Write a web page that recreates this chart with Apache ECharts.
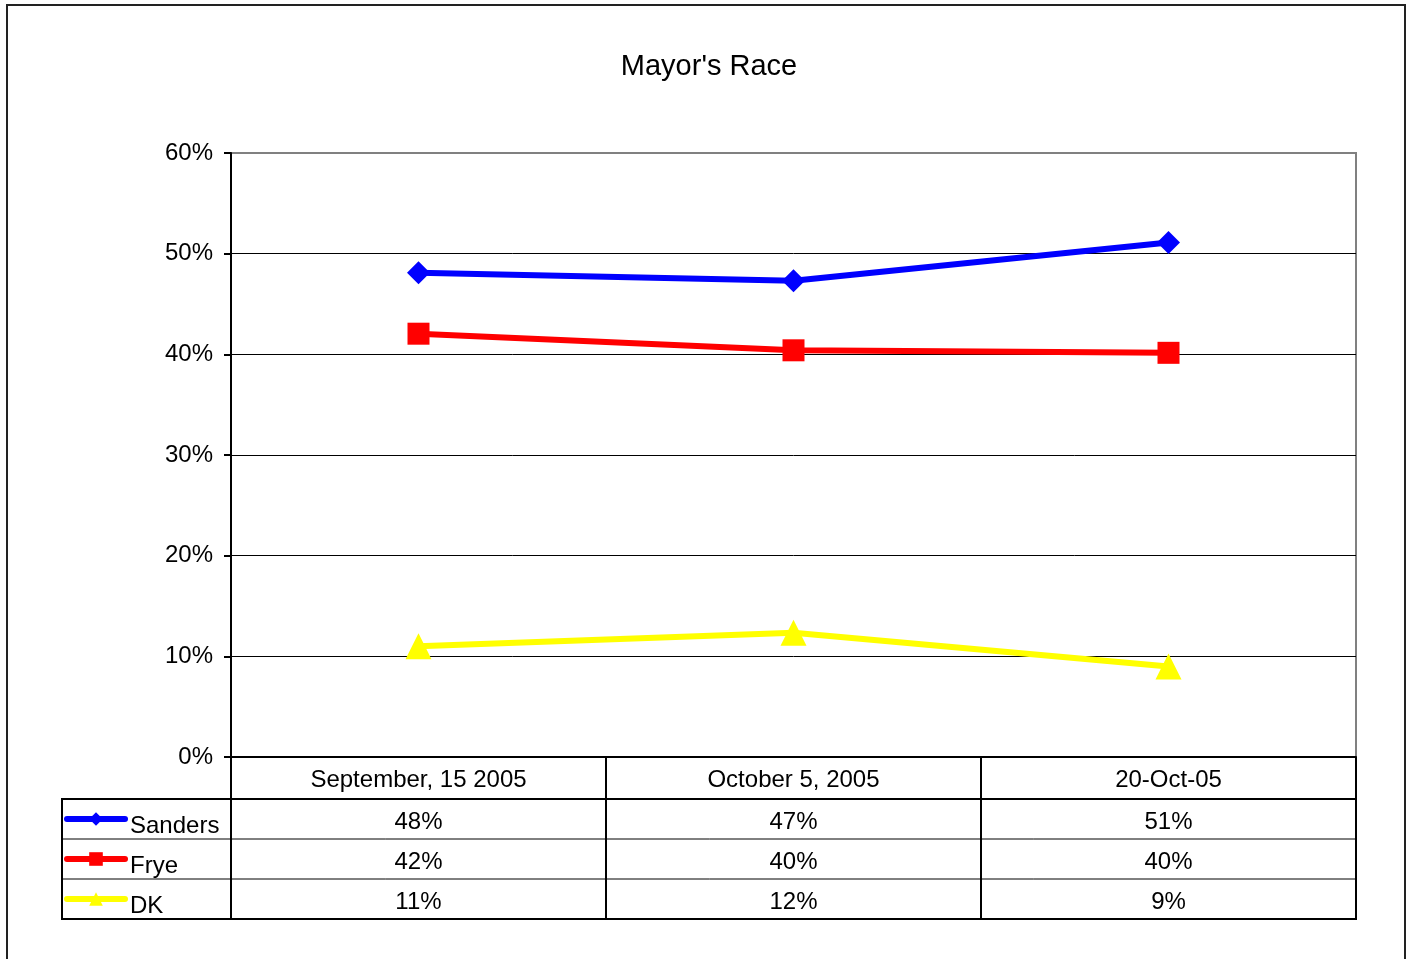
<!DOCTYPE html>
<html>
<head>
<meta charset="utf-8">
<title>Mayor's Race</title>
<script src="https://cdn.jsdelivr.net/npm/echarts@6/dist/echarts.min.js"></script>
<style>
  html, body { margin: 0; padding: 0; background: #fff; }
  #main { width: 1406px; height: 959px; }
</style>
</head>
<body>
<div id="main"></div>
<script>
  // chart data
  var categories = ['September, 15 2005', 'October 5, 2005', '20-Oct-05'];
  var seriesNames = ['Sanders', 'Frye', 'DK'];
  var sanders = [0.481, 0.473, 0.511];
  var frye = [0.4205, 0.404, 0.4015];
  var dk = [0.11, 0.1235, 0.09];
  var yTicks = [0, 0.1, 0.2, 0.3, 0.4, 0.5, 0.6];

  var FONT = 'Liberation Sans, Arial, sans-serif';
  // plot area layout
  var W = 1406, H = 959;
  var gridLeft = 231, gridRight = 50, gridTop = 153, gridBottom = 202;
  var axisY = H - gridBottom;       // 757
  var headerH = 42, rowH = 40;
  var tableLeft = 62, tableRight = W - gridRight;

  function pct(v) { return Math.round(v * 100) + '%'; }

  var rows = [sanders, frye, dk];

  // extra category axes carry the data table rows
  var xAxes = [{
    type: 'category',
    data: categories,
    boundaryGap: true,
    axisLine: { lineStyle: { color: '#000', width: 2 } },
    axisTick: { show: true, interval: 0, length: headerH + rowH * 3, lineStyle: { color: '#000', width: 2 } },
    axisLabel: { color: '#000', fontSize: 24, fontFamily: FONT, margin: 11, interval: 0 }
  }];
  rows.forEach(function (r, i) {
    xAxes.push({
      type: 'category',
      data: r.map(pct),
      position: 'bottom',
      offset: headerH + rowH * i,
      axisLine: { show: false },
      axisTick: { show: false },
      axisLabel: { color: '#000', fontSize: 24, fontFamily: FONT, margin: 11, interval: 0 }
    });
  });

  // table lines
  var lines = [];
  var ys = [axisY + headerH, axisY + headerH + rowH, axisY + headerH + rowH * 2, axisY + headerH + rowH * 3];
  var widths = [2, 1, 1, 2];
  ys.forEach(function (y, i) {
    lines.push({
      type: 'line', silent: true, z: 10,
      shape: { x1: tableLeft, y1: y, x2: tableRight + 1, y2: y },
      style: { stroke: '#000', lineWidth: widths[i] }
    });
  });
  lines.push({
    type: 'line', silent: true, z: 10,
    shape: { x1: tableLeft, y1: ys[0] - 1, x2: tableLeft, y2: ys[3] + 1 },
    style: { stroke: '#000', lineWidth: 2 }
  });
  lines.push({
    type: 'rect', silent: true, z: 0,
    shape: { x: 7, y: 5, width: 1398, height: 1000 },
    style: { fill: null, stroke: '#222', lineWidth: 2 }
  });

  var colors = ['#0000FF', '#FF0000', '#FFFF00'];
  var symbols = ['diamond', 'rect', 'triangle'];
  var sizes = [23, 22, 26];

  var mychart = echarts.init(document.getElementById('main'));
  var options = {
    animation: false,
    backgroundColor: '#fff',
    title: {
      text: "Mayor's Race",
      left: 704,
      top: 47,
      textAlign: 'center',
      textStyle: { color: '#000', fontSize: 29, fontWeight: 'normal', fontFamily: FONT }
    },
    legend: {
      data: seriesNames,
      orient: 'vertical',
      left: 64,
      top: 800,
      padding: 0,
      itemWidth: 58,
      itemHeight: 17,
      itemGap: 2,
      lineStyle: { width: 6, cap: 'round' },
      // blank first line pushes the name a little below the icon, as in the original
      formatter: function (name) { return '\n' + name; },
      textStyle: { color: '#000', fontSize: 24, fontFamily: FONT, lineHeight: 14 }
    },
    grid: {
      left: gridLeft, right: gridRight, top: gridTop, bottom: gridBottom,
      show: true, borderColor: '#808080', borderWidth: 2, backgroundColor: '#fff'
    },
    xAxis: xAxes,
    yAxis: {
      type: 'value',
      min: yTicks[0],
      max: yTicks[yTicks.length - 1],
      interval: 0.1,
      axisLine: { show: true, lineStyle: { color: '#000', width: 2 } },
      axisTick: { show: true, length: 7, lineStyle: { color: '#000', width: 2 } },
      axisLabel: {
        color: '#000', fontSize: 24, fontFamily: FONT, margin: 18,
        formatter: function (v) { return Math.round(v * 100) + '%'; }
      },
      splitLine: { show: true, showMaxLine: false, lineStyle: { color: '#000', width: 1 } }
    },
    graphic: lines,
    series: seriesNames.map(function (name, i) {
      return {
        name: name,
        type: 'line',
        data: rows[i],
        color: colors[i],
        symbol: symbols[i],
        symbolSize: sizes[i],
        lineStyle: { width: 6, color: colors[i] },
        itemStyle: { color: colors[i] },
        z: 3 - i
      };
    })
  };
  mychart.setOption(options);
</script>
</body>
</html>
